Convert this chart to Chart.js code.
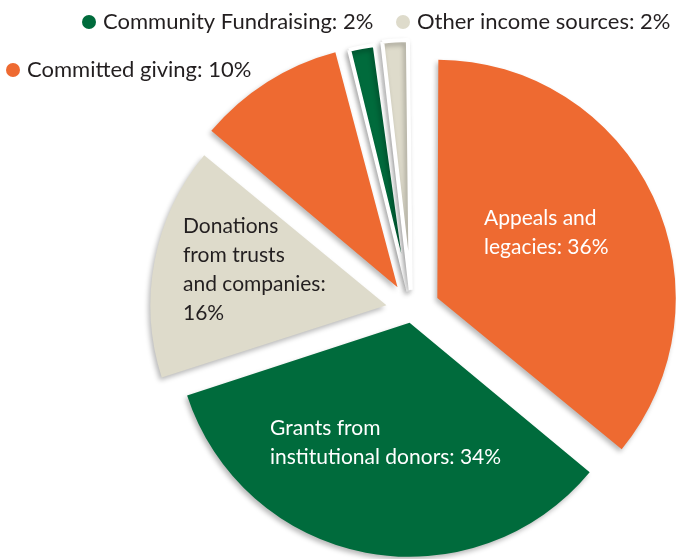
<!DOCTYPE html>
<html>
<head>
<meta charset="utf-8">
<script src="https://cdn.jsdelivr.net/npm/chart.js@4"></script>
<style>
  html, body { margin: 0; padding: 0; background: #fff; }
  #wrap { width: 676px; height: 559px; position: relative; }
</style>
</head>
<body>
<div id="wrap"><canvas id="myChart"></canvas></div>
<script>
// income shares, clockwise from 12 o'clock
const categories = [
  'Appeals and legacies',
  'Grants from institutional donors',
  'Donations from trusts and companies',
  'Committed giving',
  'Community Fundraising',
  'Other income sources'
];
const shares = [36, 34, 16, 10, 2, 2];

const sliceColors = ['#ee6a31', '#006b3c', '#dedbcb', '#ee6a31', '#006b3c', '#dedbcb'];
// exploded distance of each slice (chart.js arc offset)
const sliceOffsets = [112, 52, 104, 108, 76, 81];
const sliceBorders = [0, 0, 0, 0, 4, 4];

// where each label goes, and after which words it breaks
const labelLayout = [
  { x: 484, y: 218, breaks: [2], color: '#ffffff', key: false },
  { x: 270, y: 428, breaks: [2], color: '#ffffff', key: false },
  { x: 183, y: 226, breaks: [1, 3, 5], color: '#231f20', key: false },
  { x: 27, y: 70, breaks: [], color: '#231f20', key: true },
  { x: 103, y: 22, breaks: [], color: '#231f20', key: true },
  { x: 417, y: 22, breaks: [], color: '#231f20', key: true }
];
const lineGap = 29;
const fontFamily = 'Lato, "Open Sans", sans-serif';

function labelLines(i){
  let words = (categories[i] + ': ' + shares[i] + '%').split(' ');
  let lines = [];
  let start = 0;
  labelLayout[i].breaks.concat([words.length]).forEach(function(b){
    lines.push(words.slice(start, b).join(' '));
    start = b;
  });
  return lines;
}

const shadowPlugin = {
  id: 'shadow',
  beforeDatasetsDraw(chart){
    const ctx = chart.ctx;
    ctx.save();
    ctx.shadowColor = 'rgba(0,0,0,0.28)';
    ctx.shadowBlur = 5;
    ctx.shadowOffsetX = -2;
    ctx.shadowOffsetY = 3;
  },
  afterDatasetsDraw(chart){
    chart.ctx.restore();
  }
};

const labelPlugin = {
  id: 'sliceLabels',
  afterDraw(chart){
    const ctx = chart.ctx;
    ctx.save();
    ctx.textBaseline = 'middle';
    ctx.textAlign = 'left';
    for(let i=0; i<categories.length; i++){
      let lay = labelLayout[i];
      let lines = labelLines(i);
      ctx.fillStyle = lay.color;
      ctx.font = (lay.key ? '22px ' : '21px ') + fontFamily;
      lines.forEach(function(line, k){
        ctx.fillText(line, lay.x, lay.y + k * lineGap);
      });
      if(lay.key){
        ctx.beginPath();
        ctx.arc(lay.x - 14, lay.y, 7, 0, Math.PI * 2);
        ctx.fillStyle = sliceColors[i];
        ctx.fill();
      }
    }
    ctx.restore();
  }
};

new Chart(document.getElementById('myChart'), {
  type: 'pie',
  data: {
    labels: categories,
    datasets: [{
      data: shares,
      backgroundColor: sliceColors,
      borderColor: '#ffffff',
      borderWidth: sliceBorders,
      offset: sliceOffsets,
      clip: false
    }]
  },
  options: {
    responsive: true,
    maintainAspectRatio: false,
    animation: false,
    radius: 232,
    layout: {
      padding: { left: 148, right: 0, top: 61, bottom: 0 }
    },
    plugins: {
      legend: { display: false },
      tooltip: { enabled: false }
    }
  },
  plugins: [shadowPlugin, labelPlugin]
});
</script>
</body>
</html>
